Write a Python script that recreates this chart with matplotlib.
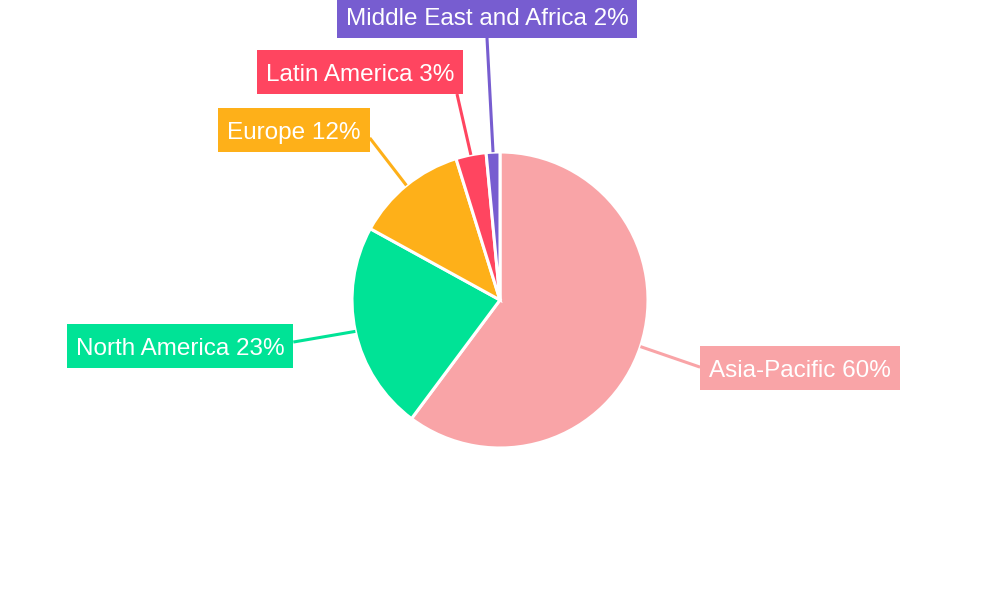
import numpy as np
import matplotlib
matplotlib.use("Agg")
import matplotlib.pyplot as plt
from matplotlib.patches import Rectangle

# Regional share (%)
regions = ["Asia-Pacific", "North America", "Europe", "Latin America", "Middle East and Africa"]
shares = [60.2, 22.8, 12.2, 3.3, 1.5]
pct_labels = ["60%", "23%", "12%", "3%", "2%"]
colors = ["#F9A4A7", "#00E396", "#FEB019", "#FF4560", "#775DD0"]

# label box centres in pixel coords (x, y from top)
label_pos = [(800, 368), (180, 346), (294, 130), (360, 72), (487, 16)]
# where the leader line meets each box (fraction of width from left, of height from top)
anchors = [(0.0, 0.48), (1.0, 0.41), (1.0, 0.68), (0.97, 1.0), (0.5, 1.0)]

plt.rcParams["font.family"] = ["Liberation Sans", "DejaVu Sans"]

W, H = 1000, 600
fig = plt.figure(figsize=(10, 6), dpi=100)
ax = fig.add_axes([0, 0, 1, 1])

cx, cy, r = 500, 300, 148
wedges, _ = ax.pie(shares, colors=colors, startangle=90, counterclock=False,
                   center=(cx, cy), radius=r, frame=True,
                   wedgeprops=dict(edgecolor="white", linewidth=2.2))
ax.set_xlim(0, W)
ax.set_ylim(0, H)
ax.set_aspect("equal")
ax.axis("off")

renderer = fig.canvas.get_renderer()
fs = 17.5
box_h = 44
pad_x = 9

for w, name, pct, col, (lx, ly), (fx, fy) in zip(wedges, regions, pct_labels, colors,
                                                  label_pos, anchors):
    y = H - ly
    t = ax.text(lx, y - 0.36 * fs * 100 / 72, f"{name} {pct}", color="white",
                fontsize=fs, ha="center", va="baseline", zorder=6)
    tw = t.get_window_extent(renderer).width
    bx0, bx1 = lx - tw / 2 - pad_x, lx + tw / 2 + pad_x
    by0, by1 = y - box_h / 2, y + box_h / 2
    ax.add_patch(Rectangle((bx0, by0), bx1 - bx0, box_h, fc=col, ec="none", zorder=5))

    # leader line from slice middle to the box anchor
    mid = np.deg2rad((w.theta1 + w.theta2) / 2)
    sx = cx + r * np.cos(mid)
    sy = cy + r * np.sin(mid)
    ex = bx0 + fx * (bx1 - bx0)
    ey = by1 - fy * box_h
    ax.plot([sx, ex], [sy, ey], color=col, lw=2.2, zorder=1, solid_capstyle="butt")

fig.savefig("out.png", dpi=100)
